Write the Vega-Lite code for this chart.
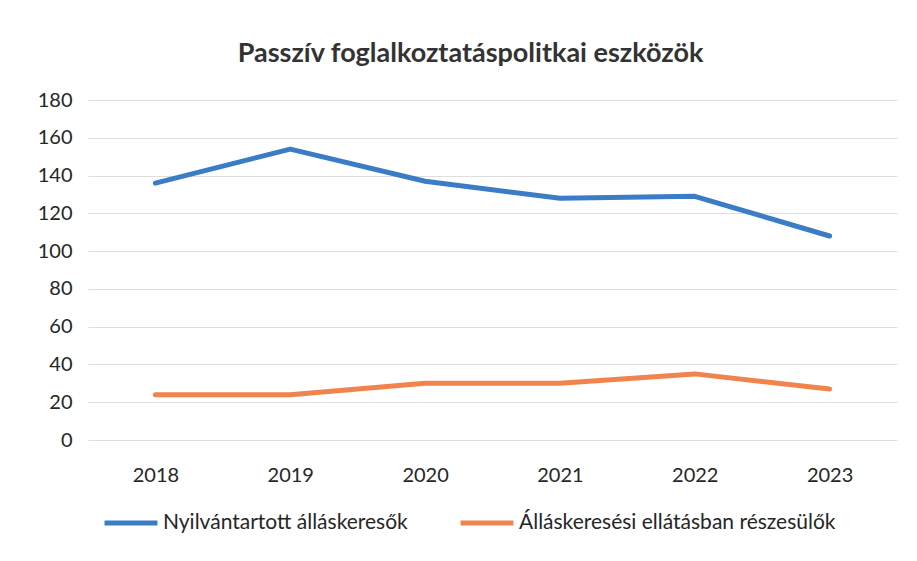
{
  "$schema": "https://vega.github.io/schema/vega-lite/v6.json",
  "autosize": {"type": "none"},
  "width": 809,
  "height": 340,
  "padding": {"left": 88, "top": 100, "right": 20, "bottom": 121},
  "background": "white",
  "title": {
    "text": "Passzív foglalkoztatáspolitkai eszközök",
    "font": "Lato",
    "fontSize": 27,
    "fontWeight": "bold",
    "color": "#333333",
    "anchor": "middle",
    "frame": "group",
    "dx": -22,
    "offset": 22
  },
  "data": {
    "values": [
      {"year": "2018", "series": "Nyilvántartott álláskeresők", "value": 136},
      {"year": "2019", "series": "Nyilvántartott álláskeresők", "value": 154},
      {"year": "2020", "series": "Nyilvántartott álláskeresők", "value": 137},
      {"year": "2021", "series": "Nyilvántartott álláskeresők", "value": 128},
      {"year": "2022", "series": "Nyilvántartott álláskeresők", "value": 129},
      {"year": "2023", "series": "Nyilvántartott álláskeresők", "value": 108},
      {"year": "2018", "series": "Álláskeresési ellátásban részesülők", "value": 24},
      {"year": "2019", "series": "Álláskeresési ellátásban részesülők", "value": 24},
      {"year": "2020", "series": "Álláskeresési ellátásban részesülők", "value": 30},
      {"year": "2021", "series": "Álláskeresési ellátásban részesülők", "value": 30},
      {"year": "2022", "series": "Álláskeresési ellátásban részesülők", "value": 35},
      {"year": "2023", "series": "Álláskeresési ellátásban részesülők", "value": 27}
    ]
  },
  "mark": {"type": "line", "strokeWidth": 5, "strokeCap": "round", "strokeJoin": "round"},
  "encoding": {
    "x": {
      "field": "year",
      "type": "ordinal",
      "scale": {"type": "point", "padding": 0.5},
      "axis": {
        "title": null,
        "labelAngle": 0,
        "labelFont": "Lato",
        "labelFontSize": 20,
        "labelColor": "#262626",
        "labelPadding": 25,
        "ticks": false,
        "domain": false,
        "grid": false
      }
    },
    "y": {
      "field": "value",
      "type": "quantitative",
      "scale": {"domain": [0, 180], "nice": false},
      "axis": {
        "title": null,
        "values": [0, 20, 40, 60, 80, 100, 120, 140, 160, 180],
        "labelFont": "Lato",
        "labelFontSize": 20,
        "labelColor": "#262626",
        "labelPadding": 16,
        "ticks": false,
        "domain": false,
        "grid": true,
        "gridColor": "#dedede",
        "gridWidth": 1
      }
    },
    "color": {
      "field": "series",
      "type": "nominal",
      "sort": ["Nyilvántartott álláskeresők", "Álláskeresési ellátásban részesülők"],
      "scale": {
        "domain": ["Nyilvántartott álláskeresők", "Álláskeresési ellátásban részesülők"],
        "range": ["#3b7cc6", "#f0844c"]
      },
      "legend": {
        "title": null,
        "orient": "none",
        "direction": "horizontal",
        "legendX": 14,
        "legendY": 394,
        "symbolType": "stroke",
        "symbolSize": 2800,
        "symbolStrokeWidth": 5,
        "labelFont": "Lato",
        "labelFontSize": 21,
        "labelColor": "#262626",
        "labelOffset": 3,
        "columnPadding": 42,
        "labelLimit": 400
      }
    }
  },
  "config": {"view": {"stroke": null}}
}
